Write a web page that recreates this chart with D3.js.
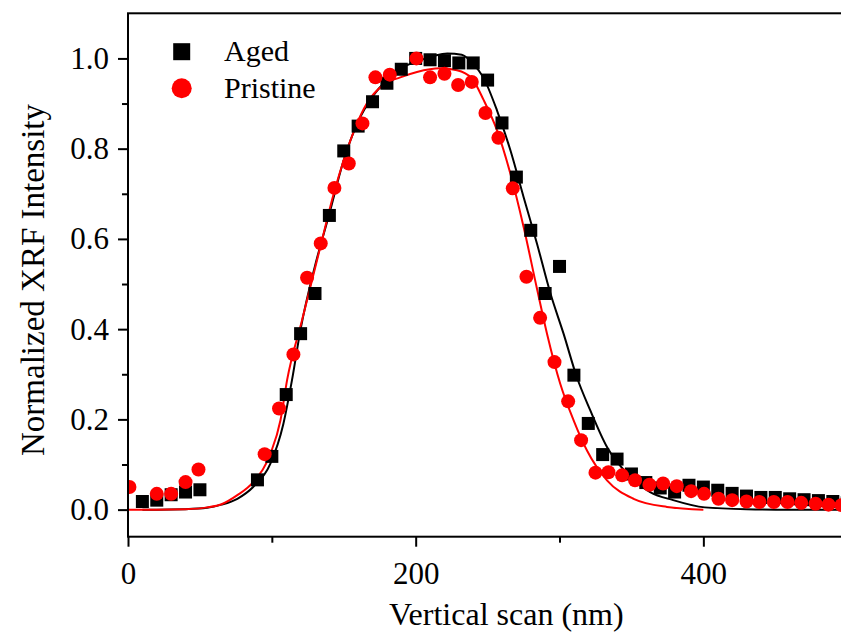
<!DOCTYPE html>
<html>
<head>
<meta charset="utf-8">
<script src="https://cdn.jsdelivr.net/npm/d3@7"></script>
<style>
    body { margin: 0; background: #fff; }
    svg { display: block; }
    text { font-family: "Liberation Serif", "Times New Roman", serif; fill: #000; }
</style>
</head>
<body>
<svg id="chart" width="841" height="632"></svg>
<script>
// measured points, Aged sample (black squares)
var agedX = [10, 20, 30, 40, 50, 90, 100, 110, 120, 130, 140, 150, 160, 170, 180, 190, 200, 210, 220, 230,
    240, 250, 260, 270, 280, 290, 300, 310, 320, 330, 340, 350, 360, 370, 380, 390, 400, 410, 420, 430,
    440, 450, 460, 470, 480, 490, 500];
var agedY = [0.018, 0.021, 0.033, 0.039, 0.044, 0.066, 0.118, 0.255, 0.39, 0.479, 0.652, 0.795, 0.85, 0.904, 0.945, 0.976, 1.0, 0.997, 0.995, 0.99,
    0.99, 0.952, 0.857, 0.737, 0.619, 0.479, 0.539, 0.298, 0.191, 0.122, 0.112, 0.079, 0.06, 0.048, 0.039, 0.054, 0.05, 0.043, 0.036, 0.03,
    0.027, 0.027, 0.024, 0.022, 0.02, 0.018, 0.015];

// measured points, Pristine sample (red circles)
var pristineX = [1, 20, 30, 40, 49, 95, 105, 115, 124.5, 134, 143.5, 153.5, 163, 172, 182, 200.5, 210, 220, 229.5, 239,
    248.5, 257.5, 267.5, 277, 286.5, 296.5, 306, 315, 325, 334, 343.5, 352.5, 362.5, 372, 381.5, 391.5, 400.5, 410.5, 420, 430,
    439, 449, 458.5, 468, 478, 487, 496];
var pristineY = [0.05, 0.035, 0.035, 0.061, 0.089, 0.123, 0.224, 0.344, 0.514, 0.59, 0.713, 0.767, 0.856, 0.958, 0.964, 1.0, 0.958, 0.966, 0.941, 0.948,
    0.879, 0.824, 0.712, 0.516, 0.425, 0.327, 0.24, 0.154, 0.082, 0.083, 0.076, 0.065, 0.055, 0.058, 0.052, 0.041, 0.035, 0.024, 0.021, 0.018,
    0.017, 0.017, 0.017, 0.015, 0.013, 0.011, 0.01];

// fitted curves
var agedFitX = [10, 20, 40, 55, 65, 76, 87, 99, 108, 114, 120, 130, 140, 150, 160, 170, 180, 190, 203, 212,
    222, 232, 240, 247, 256.5, 265.8, 275, 284.3, 293.6, 302.8, 312, 321.4, 333, 347, 363, 379, 401, 430, 460, 500];
var agedFitY = [0, 0, 0.001, 0.004, 0.011, 0.024, 0.05, 0.102, 0.19, 0.287, 0.4, 0.54, 0.656, 0.775, 0.86, 0.915, 0.952, 0.978, 0.996, 1.005,
    1.011, 1.008, 0.988, 0.958, 0.885, 0.797, 0.693, 0.59, 0.48, 0.39, 0.294, 0.22, 0.139, 0.08, 0.039, 0.021, 0.005, 0.001, 0, 0];

var pristineFitX = [0, 20, 40, 55, 65, 76, 87, 99, 106, 110.6, 121, 133.7, 143, 150, 166, 177.7, 189.3, 200.9, 217, 228.7,
    239, 247.2, 256.5, 265.8, 275, 284.3, 291.3, 300.5, 309.8, 319.1, 333, 351.5, 374.7, 400];
var pristineFitY = [0, 0, 0.001, 0.005, 0.012, 0.032, 0.061, 0.124, 0.198, 0.287, 0.42, 0.582, 0.7, 0.775, 0.9, 0.942, 0.958, 0.97, 0.978, 0.974,
    0.956, 0.908, 0.841, 0.745, 0.627, 0.49, 0.39, 0.279, 0.198, 0.131, 0.065, 0.024, 0.006, 0];

var xMajor = [0, 200, 400];
var xMinor = [100, 300, 500];
var yMajor = [0, 0.2, 0.4, 0.6, 0.8, 1.0];
var yMinor = [0.1, 0.3, 0.5, 0.7, 0.9];
var seriesNames = ["Aged", "Pristine"];
var seriesColors = ["#000", "#ff0000"];

(function() {
    var svg = d3.select("#chart");

    var x = d3.scaleLinear().domain([0, 526]).range([128, 884.6]);
    var y = d3.scaleLinear().domain([-0.06, 1.1]).range([536.7, 13.3]);

    var aged = agedX.map(function(d, i) { return {x: d, y: agedY[i]}; });
    var pristine = pristineX.map(function(d, i) { return {x: d, y: pristineY[i]}; });
    var agedFit = agedFitX.map(function(d, i) { return {x: d, y: agedFitY[i]}; });
    var pristineFit = pristineFitX.map(function(d, i) { return {x: d, y: pristineFitY[i]}; });

    svg.append("defs").append("clipPath").attr("id", "plot-clip")
        .append("rect")
        .attr("x", x(0)).attr("y", y(1.1))
        .attr("width", x(526) - x(0)).attr("height", y(-0.06) - y(1.1));

    var plot = svg.append("g").attr("clip-path", "url(#plot-clip)");

    var line = d3.line()
        .x(function(d) { return x(d.x); })
        .y(function(d) { return y(d.y); })
        .curve(d3.curveMonotoneX);

    plot.append("path").datum(agedFit)
        .attr("fill", "none").attr("stroke", seriesColors[0]).attr("stroke-width", 2)
        .attr("d", line);

    plot.append("path").datum(pristineFit)
        .attr("fill", "none").attr("stroke", seriesColors[1]).attr("stroke-width", 2)
        .attr("d", line);

    var sq = 13;
    plot.append("g").selectAll("rect").data(aged).enter().append("rect")
        .attr("x", function(d) { return x(d.x) - sq / 2; })
        .attr("y", function(d) { return y(d.y) - sq / 2; })
        .attr("width", sq).attr("height", sq)
        .attr("fill", seriesColors[0]);

    plot.append("g").selectAll("circle").data(pristine).enter().append("circle")
        .attr("cx", function(d) { return x(d.x); })
        .attr("cy", function(d) { return y(d.y); })
        .attr("r", 7)
        .attr("fill", seriesColors[1]);

    // frame
    svg.append("rect")
        .attr("x", x(0)).attr("y", y(1.1))
        .attr("width", x(526) - x(0)).attr("height", y(-0.06) - y(1.1))
        .attr("fill", "none").attr("stroke", "#000").attr("stroke-width", 2);

    // x axis
    svg.append("g").attr("transform", "translate(0," + y(-0.06) + ")")
        .call(d3.axisBottom(x).tickValues(xMajor).tickSize(10).tickSizeOuter(0).tickPadding(15).tickFormat(d3.format("d")));
    svg.append("g").attr("transform", "translate(0," + y(-0.06) + ")")
        .call(d3.axisBottom(x).tickValues(xMinor).tickSize(6).tickSizeOuter(0).tickFormat(""));

    // y axis
    svg.append("g").attr("transform", "translate(" + x(0) + ",0)")
        .call(d3.axisLeft(y).tickValues(yMajor).tickSize(10).tickSizeOuter(0).tickPadding(9).tickFormat(d3.format(".1f")));
    svg.append("g").attr("transform", "translate(" + x(0) + ",0)")
        .call(d3.axisLeft(y).tickValues(yMinor).tickSize(6).tickSizeOuter(0).tickFormat(""));

    svg.selectAll(".domain").remove();
    svg.selectAll(".tick line").attr("stroke", "#000").attr("stroke-width", 2);
    svg.selectAll(".tick text").attr("font-size", 31).attr("font-family", null).attr("fill", "#000");

    // axis titles
    svg.append("text")
        .attr("x", (x(0) + x(526)) / 2).attr("y", 625)
        .attr("text-anchor", "middle").attr("font-size", 32)
        .text("Vertical scan (nm)");

    svg.append("text")
        .attr("transform", "translate(44," + 280 + ") rotate(-90)")
        .attr("text-anchor", "middle").attr("font-size", 33)
        .text("Normalized XRF Intensity");

    // legend
    var legend = svg.append("g");
    legend.append("rect")
        .attr("x", 181.7 - 8.5).attr("y", 51.7 - 8.5).attr("width", 17).attr("height", 17)
        .attr("fill", seriesColors[0]);
    legend.append("circle")
        .attr("cx", 181.7).attr("cy", 88.3).attr("r", 10)
        .attr("fill", seriesColors[1]);
    legend.selectAll("text").data(seriesNames).enter().append("text")
        .attr("x", 224)
        .attr("y", function(d, i) { return 61 + i * 36.7; })
        .attr("font-size", 30)
        .text(function(d) { return d; });
}());
</script>
</body>
</html>
